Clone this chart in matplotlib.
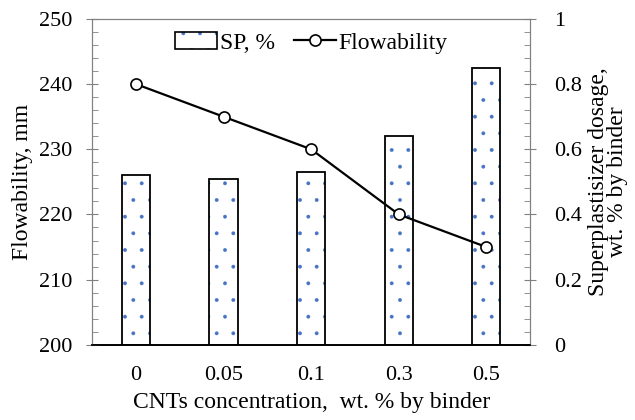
import matplotlib.pyplot as plt
import matplotlib.patches as mpatches
from matplotlib.lines import Line2D
from matplotlib.ticker import MultipleLocator
import numpy as np

# Data
cnt_labels = ['0', '0.05', '0.1', '0.3', '0.5']
flowability = [240, 235, 230, 220, 215]      # mm, left axis
sp_dosage = [0.52, 0.51, 0.53, 0.64, 0.85]   # %, right axis

plt.rcParams['font.family'] = ['Liberation Serif', 'DejaVu Serif']
plt.rcParams['font.size'] = 17
plt.rcParams['hatch.linewidth'] = 0.3

x = np.arange(len(cnt_labels))
grey = '#808080'
dot_blue = '#4472C4'

fig = plt.figure(figsize=(6.35, 4.2), dpi=100)
ax = fig.add_axes([0.145, 0.179, 0.69, 0.776])
ax2 = ax.twinx()

# bars: hatch layer then black outline
ax2.bar(x, sp_dosage, width=0.32, color='white', edgecolor=dot_blue,
        linewidth=0, hatch='.')
ax2.bar(x, sp_dosage, width=0.32, fill=False, edgecolor='black', linewidth=1.3)

ax.plot(x, flowability, '-o', color='black', lw=1.6, ms=8,
        mfc='white', mec='black', mew=1.2)

ax.set_zorder(ax2.get_zorder() + 1)
ax.patch.set_visible(False)

ax.set_xlim(-0.5, 4.5)
ax.set_ylim(200, 250)
ax2.set_ylim(0, 1)
ax.set_xticks(x)
ax.set_xticklabels(cnt_labels)
ax.yaxis.set_major_locator(MultipleLocator(10))
ax.yaxis.set_minor_locator(MultipleLocator(2))
ax2.set_yticks([0, 0.2, 0.4, 0.6, 0.8, 1])
ax2.set_yticklabels(['0', '0.2', '0.4', '0.6', '0.8', '1'])
ax2.yaxis.set_minor_locator(MultipleLocator(0.04))

ax.tick_params(axis='x', length=0, pad=15, labelsize=16)
ax.tick_params(axis='y', which='major', direction='inout', length=8, color=grey,
               pad=10, labelsize=16)
ax.tick_params(axis='y', which='minor', direction='in', length=4, color=grey)
ax2.tick_params(axis='y', which='major', direction='inout', length=8, color=grey,
                pad=13, labelsize=16)
ax2.tick_params(axis='y', which='minor', direction='in', length=4, color=grey)

for a in (ax, ax2):
    for s in ('left', 'right', 'top'):
        a.spines[s].set_color(grey)
    a.spines['bottom'].set_color('black')
    a.spines['bottom'].set_linewidth(1.2)

ax.set_xlabel('CNTs concentration,  wt. % by binder', labelpad=5)
ax.set_ylabel('Flowability, mm', va='center')
ax.yaxis.set_label_coords(-0.158, 0.5)
ax2.set_ylabel('Superplastisizer dosage,\nwt. % by binder', va='center',
               linespacing=0.85)
ax2.yaxis.set_label_coords(1.178, 0.5)

h_dots = mpatches.Patch(facecolor='white', edgecolor=dot_blue, hatch='.', lw=0)
h_box = mpatches.Patch(fill=False, edgecolor='black', lw=1.2)
h_line = Line2D([], [], color='black', lw=1.6, marker='o', ms=8,
                mfc='white', mec='black', mew=1.2)
ax.legend([(h_dots, h_box), h_line], ['SP, %', 'Flowability'], loc='upper center',
          bbox_to_anchor=(0.5, 1.025), ncol=2, frameon=False,
          handlelength=1.8, handletextpad=0.1, columnspacing=0.8)

fig.savefig('out.png', dpi=100)
